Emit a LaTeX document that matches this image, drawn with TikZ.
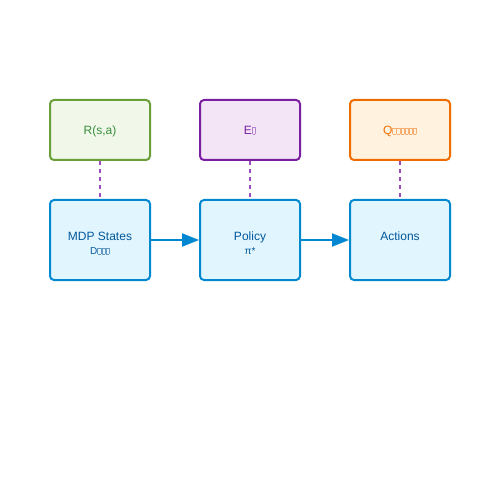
\documentclass[tikz,border=0pt]{standalone}
\usepackage{fontspec}
\setmainfont{Liberation Sans}
\usetikzlibrary{arrows.meta}
\definecolor{gborder}{HTML}{689F38}
\definecolor{gfill}{HTML}{F1F8E9}
\definecolor{gtext}{HTML}{388E3C}
\definecolor{pborder}{HTML}{7B1FA2}
\definecolor{pfill}{HTML}{F3E5F5}
\definecolor{ptext}{HTML}{7B1FA2}
\definecolor{oborder}{HTML}{EF6C00}
\definecolor{ofill}{HTML}{FFF3E0}
\definecolor{otext}{HTML}{EF6C00}
\definecolor{bborder}{HTML}{0288D1}
\definecolor{bfill}{HTML}{E1F5FE}
\definecolor{btext}{HTML}{01579B}
\definecolor{dashcol}{HTML}{9C4DBE}
% missing-glyph box as printed in the reference
\newcommand\tofu[2]{\raisebox{#2}{\hbox{\vrule width0.6bp\vbox to #1{\hrule width 2.6bp\vfill\hrule width 2.6bp}\vrule width0.6bp}}\kern0.3bp}
\tikzset{
  box/.style={draw, rounded corners=4bp, line width=2bp, minimum width=100bp, inner sep=0pt},
  topbox/.style={box, minimum height=60bp},
  botbox/.style={box, minimum height=80bp, draw=bborder, fill=bfill},
  lbl/.style={anchor=base, inner sep=0pt, font=\fontsize{12bp}{14bp}\selectfont},
  sublbl/.style={anchor=base, inner sep=0pt, font=\fontsize{10bp}{12bp}\selectfont, text=btext},
  link/.style={draw=dashcol, line width=2bp, dash pattern=on 4bp off 4bp},
  flow/.style={draw=bborder, line width=2bp, -{Triangle[length=17bp,width=13bp]}}
}
\begin{document}
\begin{tikzpicture}[x=1bp, y=-1bp]
\useasboundingbox (0,0) rectangle (500,500);
\fill[white] (0,0) rectangle (500,500);
% top row
\node[topbox, draw=gborder, fill=gfill] (r) at (100,130) {};
\node[topbox, draw=pborder, fill=pfill] (e) at (250,130) {};
\node[topbox, draw=oborder, fill=ofill] (q) at (400,130) {};
% bottom row
\node[botbox] (s) at (100,240) {};
\node[botbox] (p) at (250,240) {};
\node[botbox] (a) at (400,240) {};
% labels
\node[lbl, text=gtext] (rt) at (100,135) {R(s,a)};
\node[lbl, text=ptext] (et) at (250,135) {E\textcolor{ptext!55}{\tofu{7bp}{0.5bp}}};
\node[lbl, text=otext] (qt) at (400,135) {Q\textcolor{otext!55}{\tofu{6.5bp}{0.5bp}\tofu{6.5bp}{0.5bp}\tofu{6.5bp}{0.5bp}\tofu{6.5bp}{0.5bp}\tofu{6.5bp}{0.5bp}\tofu{6.5bp}{0.5bp}}};
\node[lbl, text=btext] (st) at (100,240) {MDP States};
\node[sublbl] (ss) at (100,254) {D\textcolor{btext!60}{\tofu{6.5bp}{0bp}\tofu{6.5bp}{0bp}\tofu{6.5bp}{0bp}}};
\node[lbl, text=btext] (pt) at (250,240) {Policy};
\node[sublbl] (ps) at (250,254) {π*};
\node[lbl, text=btext] (at) at (400,240) {Actions};
% dashed links
\draw[link] (r.south) -- (s.north);
\draw[link] (e.south) -- (p.north);
\draw[link] (q.south) -- (a.north);
% flow arrows
\draw[flow] (s.east) -- (p.west);
\draw[flow] (p.east) -- (a.west);
\end{tikzpicture}
\end{document}
